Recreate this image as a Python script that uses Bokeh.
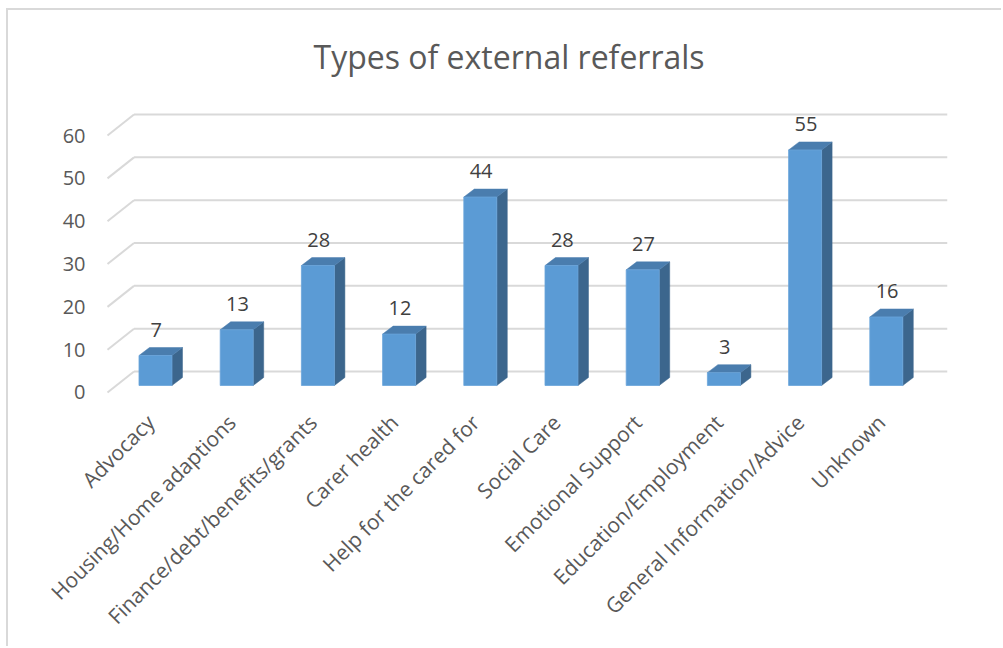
import math
from bokeh.plotting import figure
from bokeh.models import Range1d, FixedTicker
from bokeh.core.properties import value
from bokeh.embed import file_html
from bokeh.resources import INLINE

# ---- data ----
categories = ["Advocacy", "Housing/Home adaptions", "Finance/debt/benefits/grants",
              "Carer health", "Help for the cared for", "Social Care",
              "Emotional Support", "Education/Employment",
              "General Information/Advice", "Unknown"]
counts = [7, 13, 28, 12, 44, 28, 27, 3, 55, 16]
y_ticks = [0, 10, 20, 30, 40, 50, 60]
title_text = "Types of external referrals"

# ---- styling / geometry (pixels) ----
FONT = "Open Sans"
PX_X = 81.2      # pixels per category step
PX_Y = 4.283     # pixels per unit
X0, X1 = -0.7512, 9.7537
Y0, Y1 = -1.868, 70.98

front_col = "#5B9BD5"
top_col = "#4A7DAE"
side_col = "#3C668D"
grid_col = "#D9D9D9"

hw = 16.5 / PX_X          # half bar width
ddx = 10.5 / PX_X         # bar depth (x)
ddy = 8.0 / PX_Y          # bar depth (y)
base = 7.0 / PX_Y         # bar base above floor front edge
wall_dx = 26.5 / PX_X     # floor depth
wall_dy = 21.0 / PX_Y
stub_x = (107 - 155) / PX_X
label_dy = 26.0 / PX_Y
lab_shift = 5.0 / PX_X    # category label anchor shift (left)

p = figure(width=995, height=638, output_backend="svg", toolbar_location=None,
           x_range=Range1d(X0, X1), y_range=Range1d(Y0, Y1),
           min_border_left=86, min_border_right=56, min_border_top=78,
           min_border_bottom=248, background_fill_color="white",
           border_fill_color="white")
p.styles = {"margin-left": "6px", "margin-top": "8px",
            "border-left": "2px solid #D9D9D9", "border-top": "2px solid #D9D9D9"}
p.outline_line_color = None
p.grid.visible = False

p.title.text = title_text
p.title.align = "left"
p.title.offset = 219
p.title.text_font = FONT
p.title.text_font_size = "32px"
p.title.text_font_style = "normal"
p.title.text_color = "#595959"
p.title.standoff = 22

# gridlines: back wall lines + left floor stubs
gx0 = [stub_x] * len(y_ticks)
gy0 = [t for t in y_ticks]
gx1 = [stub_x + wall_dx] * len(y_ticks)
gy1 = [t + wall_dy for t in y_ticks]
p.segment(x0=gx0, y0=gy0, x1=gx1, y1=gy1, line_color=grid_col, line_width=2)
p.segment(x0=gx1, y0=gy1, x1=[X1] * len(y_ticks), y1=gy1, line_color=grid_col, line_width=2)

# bars
xs_idx = list(range(len(categories)))
side_xs, side_ys, top_xs, top_ys = [], [], [], []
for i, v in zip(xs_idx, counts):
    xl, xr = i - hw, i + hw
    b, t = base, base + v
    side_xs.append([xr, xr + ddx, xr + ddx, xr])
    side_ys.append([b, b + ddy, t + ddy, t])
    top_xs.append([xl, xr, xr + ddx, xl + ddx])
    top_ys.append([t, t, t + ddy, t + ddy])
p.patches(side_xs, side_ys, fill_color=side_col, line_color=side_col, line_width=0.5)
p.patches(top_xs, top_ys, fill_color=top_col, line_color=top_col, line_width=0.5)
p.quad(left=[i - hw for i in xs_idx], right=[i + hw for i in xs_idx],
       bottom=[base] * len(counts), top=[base + v for v in counts],
       fill_color=front_col, line_color="#6AA5DA", line_width=0.8)

# data labels
p.text(x=[i + 0.01 for i in xs_idx], y=[base + v + label_dy for v in counts],
       text=[str(v) for v in counts], text_align="center", text_baseline="middle",
       text_font=value(FONT), text_font_size="20px", text_color="#404040")

# axes
p.yaxis.ticker = FixedTicker(ticks=y_ticks)
p.yaxis.axis_line_color = None
p.yaxis.major_tick_line_color = None
p.yaxis.minor_tick_line_color = None
p.yaxis.major_tick_out = 0
p.yaxis.major_label_standoff = 9
p.yaxis.major_label_text_font = FONT
p.yaxis.major_label_text_font_size = "20px"
p.yaxis.major_label_text_color = "#595959"

cat_ticks = [i - lab_shift for i in xs_idx]
p.xaxis.ticker = FixedTicker(ticks=cat_ticks)
p.xaxis.major_label_overrides = {t: c for t, c in zip(cat_ticks, categories)}
p.xaxis.major_label_orientation = math.pi / 4
p.xaxis.axis_line_color = None
p.xaxis.major_tick_line_color = None
p.xaxis.minor_tick_line_color = None
p.xaxis.major_tick_out = 0
p.xaxis.major_label_standoff = 18
p.xaxis.major_label_text_font = FONT
p.xaxis.major_label_text_font_size = "21px"
p.xaxis.major_label_text_color = "#595959"

open("out.html", "w").write(file_html(p, INLINE))
